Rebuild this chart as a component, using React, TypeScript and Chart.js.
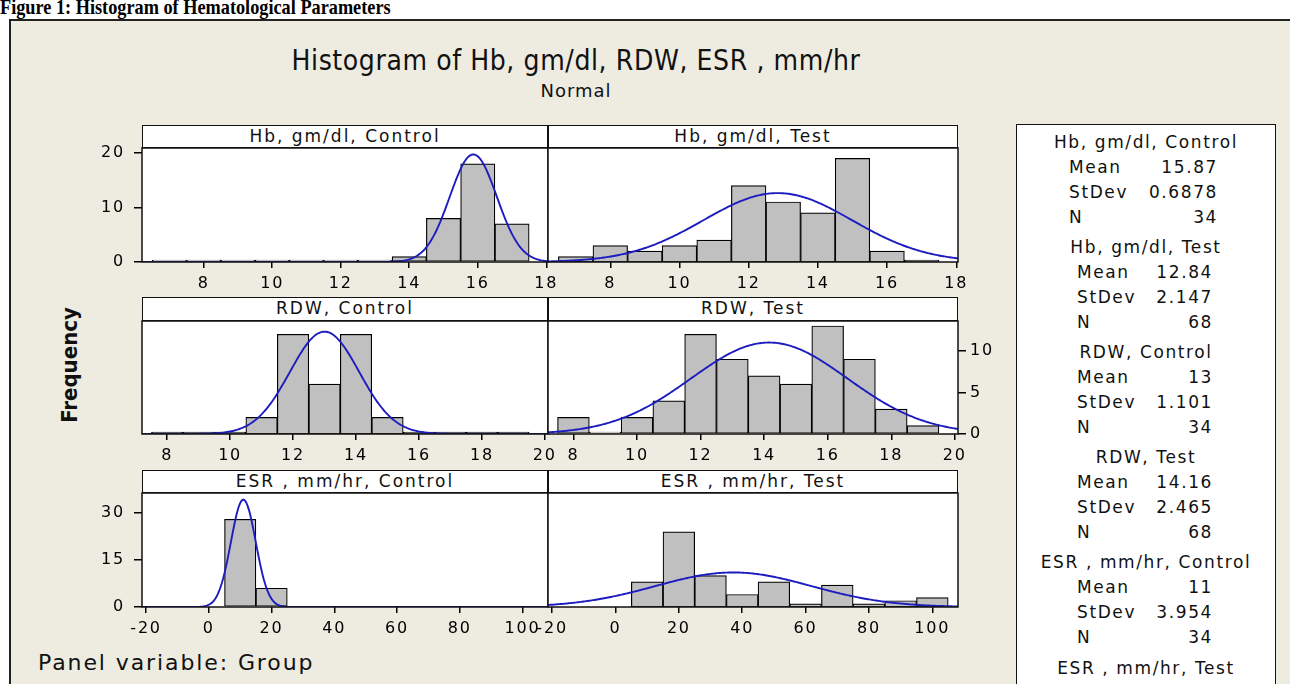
import React, { useEffect, useRef } from "react";
import { Chart, registerables } from "chart.js";

Chart.register(...registerables);

// ---------------- data ----------------
const hbBins = [7, 8, 9, 10, 11, 12, 13, 14, 15, 16, 17];
const hbControl = [0, 0, 0, 0, 0, 0, 0, 1, 8, 18, 7];
const hbTest = [1, 3, 2, 3, 4, 14, 11, 9, 19, 2, 0];

const rdwBins = [8, 9, 10, 11, 12, 13, 14, 15, 16, 17, 18, 19];
const rdwControl = [0, 0, 0, 2, 12, 6, 12, 2, 0, 0, 0, 0];
const rdwTest = [2, 0, 2, 4, 12, 9, 7, 6, 13, 9, 3, 1];

const esrControlBins = [10, 20];
const esrControl = [28, 6];
const esrTestBins = [10, 20, 30, 40, 50, 60, 70, 80, 90, 100];
const esrTest = [8, 24, 10, 4, 8, 1, 7, 1, 2, 3];

const hbTicks = [8, 10, 12, 14, 16, 18];
const rdwTicks = [8, 10, 12, 14, 16, 18, 20];
const esrTicks = [-20, 0, 20, 40, 60, 80, 100];
const hbFreqTicks = [0, 10, 20];
const rdwFreqTicks = [0, 5, 10];
const esrFreqTicks = [0, 15, 30];

const groupTitles = [
  "Hb, gm/dl, Control",
  "Hb, gm/dl, Test",
  "RDW, Control",
  "RDW, Test",
  "ESR , mm/hr, Control",
  "ESR , mm/hr, Test",
];
const groupMeans = [15.87, 12.84, 13, 14.16, 11, 37.2];
const groupStDevs = [0.6878, 2.147, 1.101, 2.465, 3.954, 24.6];
const groupNs = [34, 68, 34, 68, 34, 68];
const shownGroups = 5; // the stats of the last group are cut off in the picture

// ---------------- style / layout ----------------
const FONT = "'DejaVu Sans', Verdana, sans-serif";
const BG = "#EEEBE1";
const BLUE = "#1C1CC0";
const BAR = "#C0C0C0";

const COLS = [
  { left: 142, right: 548 },
  { left: 548, right: 958 },
];
const ROWS = [
  { head: 125, top: 148, bottom: 262 },
  { head: 297, top: 321, bottom: 434 },
  { head: 470, top: 493, bottom: 607 },
];
const ML = 70;
const MR = 50;
const MT = 20;
const MB = 50;
const XH = 40;
const YW = 50;

type Spec = {
  row: number;
  col: number;
  group: number;
  bins: number[];
  counts: number[];
  binWidth: number;
  xMin: number;
  xMax: number;
  xTicks: number[];
  yMax: number;
  yTicks: number[];
  yPos: "left" | "right" | null;
  minBar: number;
};

const panels: Spec[] = [
  { row: 0, col: 0, group: 0, bins: hbBins, counts: hbControl, binWidth: 1, xMin: 6.2, xMax: 18.05, xTicks: hbTicks, yMax: 20.9, yTicks: hbFreqTicks, yPos: "left", minBar: 2 },
  { row: 0, col: 1, group: 1, bins: hbBins, counts: hbTest, binWidth: 1, xMin: 6.2, xMax: 18.05, xTicks: hbTicks, yMax: 20.9, yTicks: hbFreqTicks, yPos: null, minBar: 2 },
  { row: 1, col: 0, group: 2, bins: rdwBins, counts: rdwControl, binWidth: 1, xMin: 7.2, xMax: 20.1, xTicks: rdwTicks, yMax: 13.6, yTicks: rdwFreqTicks, yPos: null, minBar: 2 },
  { row: 1, col: 1, group: 3, bins: rdwBins, counts: rdwTest, binWidth: 1, xMin: 7.2, xMax: 20.1, xTicks: rdwTicks, yMax: 13.6, yTicks: rdwFreqTicks, yPos: "right", minBar: 2 },
  { row: 2, col: 0, group: 4, bins: esrControlBins, counts: esrControl, binWidth: 10, xMin: -21.3, xMax: 108.1, xTicks: esrTicks, yMax: 36.4, yTicks: esrFreqTicks, yPos: "left", minBar: 0 },
  { row: 2, col: 1, group: 5, bins: esrTestBins, counts: esrTest, binWidth: 10, xMin: -21.3, xMax: 108.1, xTicks: esrTicks, yMax: 36.4, yTicks: esrFreqTicks, yPos: null, minBar: 0 },
];

function normalCurve(mean: number, sd: number, n: number, bw: number, x0: number, x1: number) {
  const pts: { x: number; y: number }[] = [];
  const steps = 300;
  for (let i = 0; i <= steps; i++) {
    const x = x0 + ((x1 - x0) * i) / steps;
    const z = (x - mean) / sd;
    pts.push({ x, y: (n * bw * Math.exp(-0.5 * z * z)) / (sd * Math.sqrt(2 * Math.PI)) });
  }
  return pts;
}

const framePlugin = {
  id: "frame",
  beforeDraw(chart: any) {
    const { ctx, chartArea: a } = chart;
    ctx.save();
    ctx.fillStyle = "#fff";
    ctx.fillRect(a.left, a.top, a.right - a.left, a.bottom - a.top);
    ctx.restore();
    ctx.letterSpacing = "1.8px";
  },
  afterDraw(chart: any) {
    const { ctx, chartArea: a } = chart;
    ctx.save();
    ctx.strokeStyle = "#111";
    ctx.lineWidth = 1.5;
    ctx.strokeRect(a.left, a.top, a.right - a.left, a.bottom - a.top);
    ctx.restore();
  },
};

function HistPanel({ spec }: { spec: Spec }) {
  const ref = useRef<HTMLCanvasElement>(null);
  const col = COLS[spec.col];
  const row = ROWS[spec.row];
  const W = col.right - col.left + ML + MR;
  const H = row.bottom - row.top + MT + MB;

  useEffect(() => {
    if (!ref.current) return;
    const g = spec.group;
    const tickFont = { family: FONT, size: 16 };
    const showY = spec.yPos !== null;
    const chart = new Chart(ref.current, {
      type: "bar",
      data: {
        datasets: [
          {
            type: "line",
            data: normalCurve(groupMeans[g], groupStDevs[g], groupNs[g], spec.binWidth, spec.xMin, spec.xMax),
            borderColor: BLUE,
            borderWidth: 1.9,
            pointRadius: 0,
            tension: 0,
            fill: false,
            order: 0,
          } as any,
          {
            type: "bar",
            data: spec.bins.map((x, i) => ({ x, y: spec.counts[i] })),
            backgroundColor: BAR,
            borderColor: "#000",
            borderWidth: 1.2,
            borderSkipped: false,
            barPercentage: 1,
            categoryPercentage: 1,
            minBarLength: spec.minBar,
            order: 1,
          } as any,
        ],
      },
      options: {
        animation: false,
        responsive: false,
        maintainAspectRatio: false,
        events: [],
        layout: {
          padding: {
            left: spec.yPos === "left" ? ML - YW : ML,
            right: spec.yPos === "right" ? MR - YW : MR,
            top: MT,
            bottom: MB - XH,
          },
        },
        plugins: { legend: { display: false }, tooltip: { enabled: false } },
        scales: {
          x: {
            type: "linear",
            min: spec.xMin,
            max: spec.xMax,
            bounds: "data",
            offset: false,
            afterBuildTicks: (s: any) => {
              s.ticks = spec.xTicks.map((v) => ({ value: v }));
            },
            afterFit: (s: any) => {
              s.height = XH;
            },
            grid: { display: true, offset: false, drawOnChartArea: false, drawTicks: true, tickLength: 6, color: "#000", lineWidth: 1.5 },
            border: { display: false },
            ticks: { color: "#000", font: tickFont, padding: 6, autoSkip: false, maxRotation: 0, callback: (v: any) => String(v) },
          },
          y: {
            type: "linear",
            display: showY,
            position: spec.yPos || "left",
            min: 0,
            max: spec.yMax,
            bounds: "data",
            afterBuildTicks: (s: any) => {
              s.ticks = spec.yTicks.map((v) => ({ value: v }));
            },
            afterFit: (s: any) => {
              s.width = showY ? YW : 0;
            },
            grid: { display: true, drawOnChartArea: false, drawTicks: true, tickLength: 8, color: "#000", lineWidth: 1.5 },
            border: { display: false },
            ticks: { color: "#000", font: tickFont, padding: spec.yPos === "left" ? 9 : 4, autoSkip: false, callback: (v: any) => String(v) },
          },
        } as any,
      },
      plugins: [framePlugin as any],
    });
    return () => chart.destroy();
  }, []);

  return (
    <canvas
      ref={ref}
      width={W}
      height={H}
      style={{ position: "absolute", left: col.left - ML, top: row.top - MT, width: W, height: H }}
    />
  );
}

function Header({ spec }: { spec: Spec }) {
  const col = COLS[spec.col];
  const row = ROWS[spec.row];
  return (
    <div
      style={{
        position: "absolute",
        left: col.left,
        top: row.head,
        width: col.right - col.left,
        height: row.top - row.head,
        boxSizing: "border-box",
        border: "1.5px solid #111",
        background: "#fff",
        textAlign: "center",
        font: `17px ${FONT}`,
        letterSpacing: "2px",
        lineHeight: `${row.top - row.head - 3}px`,
        color: "#111",
        whiteSpace: "nowrap",
      }}
    >
      {groupTitles[spec.group]}
    </div>
  );
}

function Legend() {
  const items: React.ReactNode[] = [];
  for (let g = 0; g < groupTitles.length; g++) {
    const cy = 142 + g * 105.2;
    const wide = g === 0;
    const labL = wide ? 1069 : 1077;
    const valR = wide ? 1218 : 1213;
    items.push(
      <div
        key={"t" + g}
        style={{ position: "absolute", left: 1016, width: 260, top: cy - 12.5, height: 25, lineHeight: "25px", textAlign: "center" }}
      >
        {groupTitles[g]}
      </div>
    );
    if (g < shownGroups) {
      const rows: [string, string][] = [
        ["Mean", String(groupMeans[g])],
        ["StDev", String(groupStDevs[g])],
        ["N", String(groupNs[g])],
      ];
      rows.forEach((r, k) => {
        const y = cy + 25 * (k + 1) - 12.5;
        items.push(
          <div key={`l${g}-${k}`} style={{ position: "absolute", left: labL, top: y, height: 25, lineHeight: "25px" }}>
            {r[0]}
          </div>
        );
        items.push(
          <div
            key={`v${g}-${k}`}
            style={{ position: "absolute", left: valR - 120, width: 120, top: y, height: 25, lineHeight: "25px", textAlign: "right" }}
          >
            {r[1]}
          </div>
        );
      });
    }
  }
  return (
    <>
      <div
        style={{
          position: "absolute",
          left: 1016,
          top: 124,
          width: 260,
          height: 620,
          boxSizing: "border-box",
          border: "1.5px solid #111",
          background: "#fff",
        }}
      />
      <div style={{ position: "absolute", left: 0, top: 0, font: `17px ${FONT}`, letterSpacing: "1.6px", color: "#111", whiteSpace: "nowrap" }}>
        {items}
      </div>
    </>
  );
}

export default function App() {
  return (
    <div
      style={{
        position: "absolute",
        left: 0,
        top: 0,
        width: 1290,
        height: 684,
        overflow: "hidden",
        background: "#fff",
        fontFamily: FONT,
        color: "#111",
      }}
    >
      <div
        style={{
          position: "absolute",
          left: 0,
          top: -4,
          font: "bold 22px 'Liberation Serif', serif",
          lineHeight: "22px",
          whiteSpace: "nowrap",
          color: "#000",
          transform: "scaleX(0.83)",
          transformOrigin: "0 0",
        }}
      >
        Figure 1: Histogram of Hematological Parameters
      </div>
      <div
        style={{
          position: "absolute",
          left: 9,
          top: 19,
          width: 1300,
          height: 700,
          background: BG,
          borderLeft: "2px solid #222",
          borderTop: "2px solid #222",
        }}
      />
      <div
        style={{
          position: "absolute",
          left: 176,
          width: 800,
          top: 62 - 18,
          height: 36,
          lineHeight: "36px",
          textAlign: "center",
          font: `28px 'DejaVu Sans Condensed', ${FONT}`,
          letterSpacing: "0.6px",
          whiteSpace: "nowrap",
        }}
      >
        Histogram of Hb, gm/dl, RDW, ESR , mm/hr
      </div>
      <div
        style={{
          position: "absolute",
          left: 476,
          width: 200,
          top: 91 - 11,
          height: 24,
          lineHeight: "24px",
          textAlign: "center",
          font: `18px ${FONT}`,
          letterSpacing: "1px",
        }}
      >
        Normal
      </div>
      <div
        style={{
          position: "absolute",
          left: 69,
          top: 365,
          transform: "translate(-50%, -50%) rotate(-90deg)",
          font: `bold 22px 'DejaVu Sans Condensed', ${FONT}`,
          whiteSpace: "nowrap",
        }}
      >
        Frequency
      </div>
      <div
        style={{
          position: "absolute",
          left: 38,
          top: 665 - 15,
          height: 30,
          lineHeight: "30px",
          font: `22px ${FONT}`,
          letterSpacing: "1.9px",
          whiteSpace: "nowrap",
        }}
      >
        Panel variable: Group
      </div>
      {panels.map((p, i) => (
        <HistPanel key={i} spec={p} />
      ))}
      {panels.map((p, i) => (
        <Header key={"h" + i} spec={p} />
      ))}
      <Legend />
    </div>
  );
}
